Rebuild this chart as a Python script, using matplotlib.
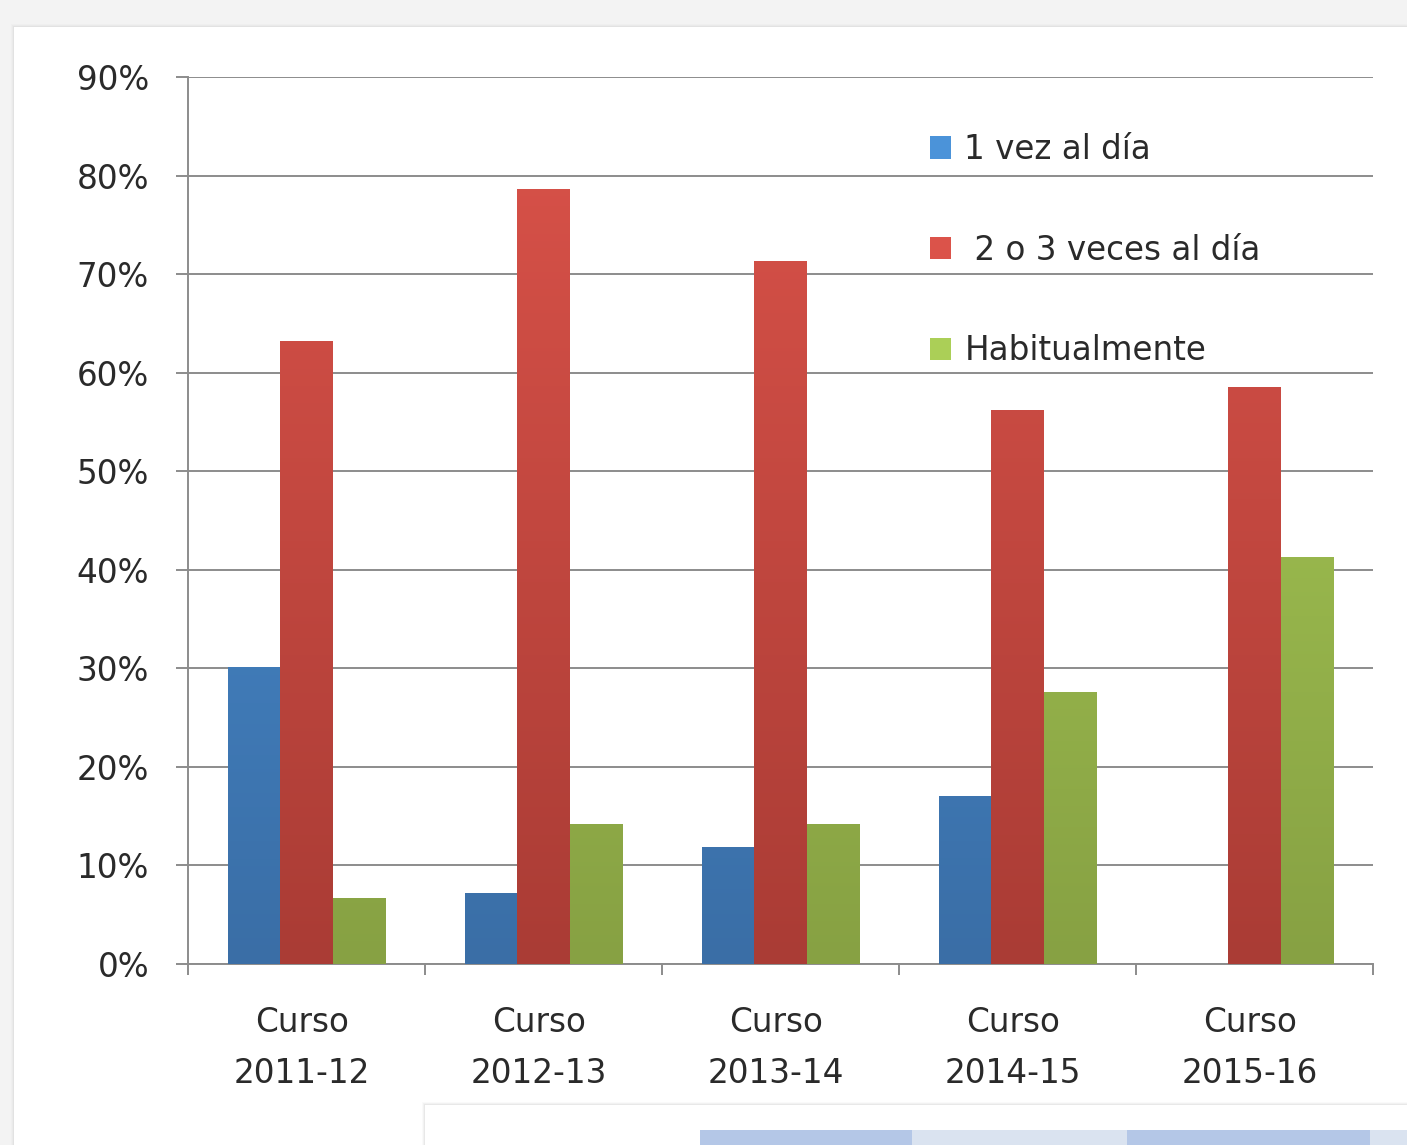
import numpy as np
import matplotlib.pyplot as plt
from matplotlib.patches import Rectangle
from matplotlib.colors import LinearSegmentedColormap

cursos = ["Curso\n2011-12", "Curso\n2012-13", "Curso\n2013-14", "Curso\n2014-15", "Curso\n2015-16"]
series = ["1 vez al día", " 2 o 3 veces al día", "Habitualmente"]
una_vez = [30.1, 7.2, 11.9, 17.0, 0.0]
dos_tres = [63.2, 78.6, 71.3, 56.2, 58.5]
habitual = [6.7, 14.2, 14.2, 27.6, 41.3]
yticks = [0, 10, 20, 30, 40, 50, 60, 70, 80, 90]

# top / bottom colours of each gradient
grad = [("#4b93d9", "#3a6ea6"), ("#db534a", "#aa3c35"), ("#abcf57", "#87a143")]

plt.rcParams['font.family'] = ['DejaVu Sans']
FS = 23.5

W, H = 1407, 1145
fig = plt.figure(figsize=(W / 100, H / 100), dpi=100, facecolor="#f3f3f3")


def fig_rect(x0, y0, x1, y1, **kw):
    # rectangle in pixel coords (y measured from top), behind the axes
    fig.patches.append(Rectangle((x0 / W, 1 - y1 / H), (x1 - x0) / W, (y1 - y0) / H,
                                 transform=fig.transFigure, ec="none", zorder=-1, **kw))


# panel with shadow
for k, a in enumerate([0.05, 0.08, 0.12]):
    fig_rect(14 - 3 + k, 27 - 3 + k, W, H, fc="#b0b0b0", alpha=a)
fig_rect(14, 27, W, H, fc="white")

# partial table panel at the bottom
for k, a in enumerate([0.05, 0.08, 0.12]):
    fig_rect(425 - 3 + k, 1105 - 3 + k, W, H, fc="#a0a0a0", alpha=a)
fig_rect(425, 1105, W, H, fc="white")
cells = [(700, 912, "#b4c7e7"), (912, 1127, "#dae3f0"), (1127, 1370, "#b4c7e7"), (1370, 1407, "#dae3f0")]
for a0, a1, c in cells:
    fig_rect(a0, 1130, a1, H, fc=c)

ax = fig.add_axes([188 / W, 1 - 964 / H, (1373 - 188) / W, (964 - 77) / H])
ax.patch.set_alpha(0)
x = np.arange(len(cursos))
width = 0.222
data = [una_vez, dos_tres, habitual]

for i, vals in enumerate(data):
    bars = ax.bar(x + (i - 1) * width, vals, width, color=grad[i][0], zorder=3)
    cmap = LinearSegmentedColormap.from_list("g%d" % i, [grad[i][1], grad[i][0]])
    for b in bars:
        if b.get_height() <= 0:
            continue
        x0, y0 = b.get_x(), b.get_y()
        img = ax.imshow(np.linspace(0, 1, 256).reshape(-1, 1), cmap=cmap, origin="lower",
                        extent=[x0, x0 + b.get_width(), y0, y0 + 90], aspect="auto",
                        zorder=3, interpolation="bilinear")
        img.set_clip_path(b)

ax.set_xlim(-0.5, len(cursos) - 0.5)
ax.set_ylim(0, 90)
ax.set_yticks(yticks)
ax.set_yticklabels([f"{v}%" for v in yticks], fontsize=FS, color="#2a2a2a")
ax.yaxis.grid(True, color="#8c8c8c", lw=1.4, zorder=0)
ax.set_axisbelow(True)

ax.set_xticks(x - 0.02)
ax.set_xticklabels(cursos, fontsize=FS, color="#2a2a2a", linespacing=1.7)
ax.tick_params(axis="x", length=0, pad=30)
ax.set_xticks(np.arange(-0.5, len(cursos)), minor=True)
ax.tick_params(axis="x", which="minor", length=8, width=1.4, color="#8c8c8c", direction="out")
ax.tick_params(axis="y", length=9, width=1.4, color="#8c8c8c", pad=19)

for s in ["top", "right"]:
    ax.spines[s].set_visible(False)
for s in ["left", "bottom"]:
    ax.spines[s].set_color("#8c8c8c")
    ax.spines[s].set_linewidth(1.4)

handles = [Rectangle((0, 0), 1, 1, fc=c[0], ec="none") for c in grad]
leg = ax.legend(handles, series, loc="upper left", bbox_to_anchor=(0.601, 0.97),
                frameon=False, fontsize=FS, handlelength=0.67, handleheight=0.67,
                handletextpad=0.4, labelspacing=2.07)
for t in leg.get_texts():
    t.set_color("#2a2a2a")

fig.savefig("out.png", dpi=100, facecolor=fig.get_facecolor())
